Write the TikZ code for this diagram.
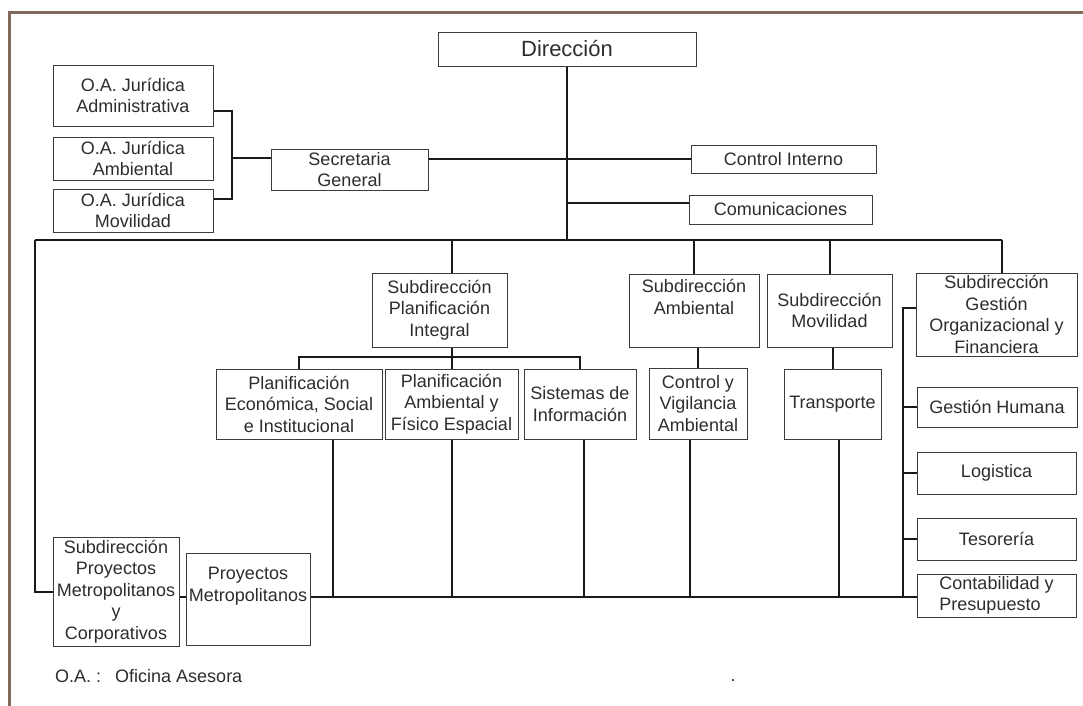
\documentclass[tikz,border=0pt]{standalone}
\usepackage{fontspec}
\setmainfont{Liberation Sans}
\definecolor{boxc}{RGB}{60,60,60}
\definecolor{linec}{RGB}{25,25,25}
\definecolor{txtc}{RGB}{45,45,45}
\definecolor{framec}{RGB}{128,104,90}
\begin{document}
\begin{tikzpicture}[x=1pt,y=-1pt,
  box/.style={draw=boxc, line width=1pt, fill=white, align=center, inner sep=0pt,
    font=\fontsize{18}{21.5}\selectfont, text=txtc},
  conn/.style={draw=linec, line width=2pt},
  plain/.style={font=\fontsize{18}{21.5}\selectfont, text=txtc, inner sep=0pt}]
\useasboundingbox (0,0) rectangle (1083,705);
\fill[white] (0,0) rectangle (1083,705);
\draw[framec, line width=3pt] (9,710) -- (9,12) -- (1090,12);

% boxes
\node[box, minimum width=258pt, minimum height=34pt, font=\fontsize{22}{26}\selectfont] (dir) at (567,49) {Dirección};
\node[box, minimum width=160pt, minimum height=61pt] (oa1) at (133,95.5) {O.A. Jurídica\\Administrativa};
\node[box, minimum width=160pt, minimum height=43pt] (oa2) at (133,158.5) {O.A. Jurídica\\Ambiental};
\node[box, minimum width=160pt, minimum height=43pt] (oa3) at (133,210.5) {O.A. Jurídica\\Movilidad};
\node[box, minimum width=157pt, minimum height=41pt] (sec) at (349.5,169.5) {Secretaria\\General};
\node[box, minimum width=185pt, minimum height=28pt] (ci) at (783.5,159) {Control Interno};
\node[box, minimum width=183pt, minimum height=29pt] (com) at (780.5,209.5) {Comunicaciones};
\node[box, minimum width=135pt, minimum height=74pt] (spi) at (439.5,310) {Subdirección\\Planificación\\Integral};
\node[box, minimum width=166pt, minimum height=70pt] (pe) at (299,404) {Planificación\\Económica, Social\\e Institucional};
\node[box, minimum width=133pt, minimum height=70pt] (pa) at (451.5,404) {Planificación\\Ambiental y\\Físico Espacial};
\node[box, minimum width=112pt, minimum height=70pt] (si) at (580,404) {Sistemas de\\Información};
\node[box, minimum width=130pt, minimum height=73pt] (sa) at (694,310.5) {Subdirección\\Ambiental\\[6pt]};
\node[box, minimum width=98pt, minimum height=71pt] (cv) at (698,403.5) {Control y\\Vigilancia\\Ambiental};
\node[box, minimum width=125pt, minimum height=73pt] (sm) at (829.5,310.5) {Subdirección\\Movilidad};
\node[box, minimum width=97pt, minimum height=70pt] (tr) at (832.5,404) {Transporte};
\node[box, minimum width=161pt, minimum height=83pt] (sg) at (996.5,314.5) {Subdirección\\Gestión\\Organizacional y\\Financiera};
\node[box, minimum width=160pt, minimum height=40pt] (gh) at (997,407) {Gestión Humana};
\node[box, minimum width=159pt, minimum height=42pt] (lo) at (996.5,473) {Logistica};
\node[box, minimum width=159pt, minimum height=42pt] (te) at (996.5,539) {Tesorería};
\node[box, minimum width=159pt, minimum height=43pt, align=left] (co) at (996.5,595.5) {Contabilidad y\\Presupuesto};
\node[box, minimum width=126pt, minimum height=109pt] (spm) at (116,591.5) {Subdirección\\Proyectos\\Metropolitanos\\y\\Corporativos};
\node[box, minimum width=124pt, minimum height=92pt] (pm) at (248,599) {Proyectos\\Metropolitanos\\[8pt]};

\node[plain, anchor=west] (leg) at (55,676) {O.A. :\hspace{14pt}Oficina Asesora};
\node[plain, anchor=base] (dot) at (733,681) {.};

% helper coordinates
\coordinate (busL) at (35,240);
\coordinate (busR) at (1002,240);
\coordinate (bk) at (232,158);
\coordinate (j2) at (567,203);
\coordinate (sb) at (451.5,357);
\coordinate (bb) at (600,597);
\coordinate (sp) at (903,308);
\coordinate (d1) at (333,597);
\coordinate (d3) at (584,597);
\coordinate (d4) at (690,597);
\coordinate (d5) at (839,597);

% connectors
\draw[conn] (dir.south) -- (dir.south |- busL);
\draw[conn] (busL) -- (busR);
\draw[conn] (sec.east |- ci.west) -- (ci.west);
\draw[conn] (j2) -- (com.west |- j2);
\draw[conn] ([yshift=16pt]oa1.south east) -| (bk) |- ([yshift=-10pt]oa3.north east);
\draw[conn] (bk) -- (bk -| sec.west);
\draw[conn] (spm.west) -| (busL);
\draw[conn] (busR) -- (busR |- sg.north);
\draw[conn] (busL -| pa.north) -- (spi.north -| pa.north);
\draw[conn] (spi.south -| pa.north) -- (pa.north);
\draw[conn] (pe.north) |- (sb) -| (si.north);
\draw[conn] (busL -| sa.north) -- (sa.north);
\draw[conn] (sa.south -| cv.north) -- (cv.north);
\draw[conn] (busL -| sm.north) -- (sm.north);
\draw[conn] (sm.south -| tr.north) -- (tr.north);
\draw[conn] (d1 |- pe.south) -- (d1);
\draw[conn] (pa.south) -- (pa.south |- bb);
\draw[conn] (d3 |- si.south) -- (d3);
\draw[conn] (d4 |- cv.south) -- (d4);
\draw[conn] (d5 |- tr.south) -- (d5);
\draw[conn] (pm.east |- bb) -- (co.west |- bb);
\draw[conn] (spm.east |- bb) -- (pm.west |- bb);
\draw[conn] (sg.west |- sp) -- (sp) -- (sp |- bb);
\draw[conn] (sp |- gh.west) -- (gh.west);
\draw[conn] (sp |- lo.west) -- (lo.west);
\draw[conn] (sp |- te.west) -- (te.west);
\end{tikzpicture}
\end{document}
